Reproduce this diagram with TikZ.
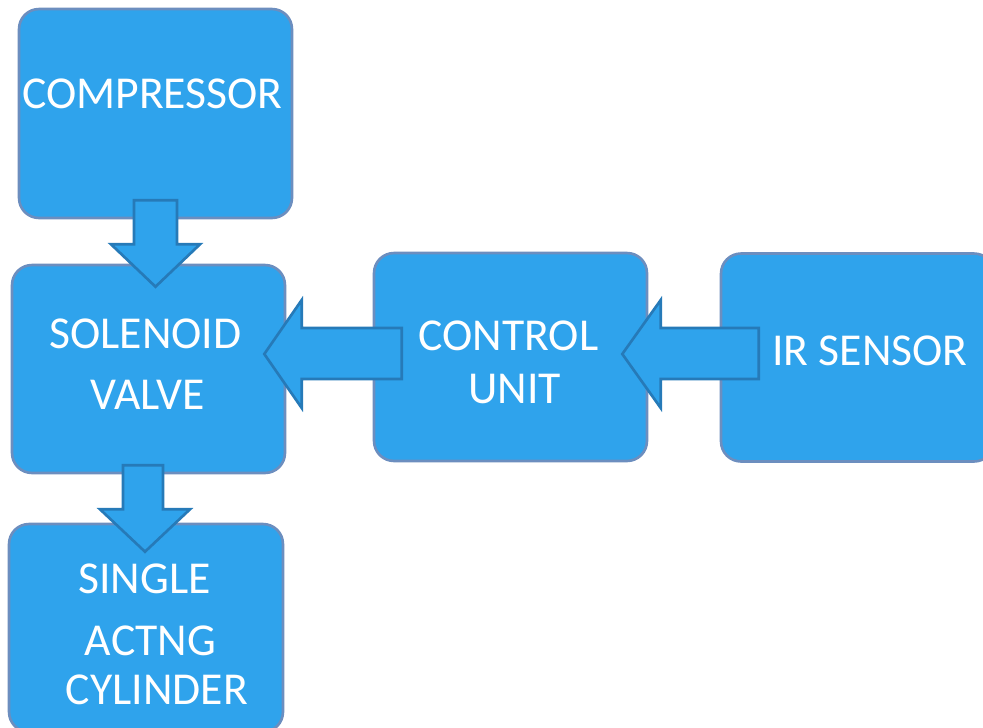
\documentclass[tikz,border=0pt]{standalone}
\usepackage{fontspec}
\setmainfont{Carlito}
\usetikzlibrary{calc}
\definecolor{boxblue}{RGB}{47,163,236}
\definecolor{boxedge}{RGB}{108,142,191}
\definecolor{arrowedge}{RGB}{38,122,184}
\tikzset{
  block/.style={draw=boxedge, fill=boxblue, line width=1.5pt, rounded corners=0.4cm, minimum width=5.46cm, minimum height=4.16cm, inner sep=0pt},
  blocktext/.style={text=white, anchor=base, font=\fontsize{26}{31}\selectfont},
  fatarrow/.style={draw=arrowedge, fill=boxblue, line width=1.5pt, line join=miter}
}

\begin{document}
\begin{tikzpicture}[x=0.02cm, y=-0.02cm]
\useasboundingbox (0,0) rectangle (983,727);
\clip (0,0) rectangle (983,727);
% boxes
\node[block, minimum height=4.18cm] (comp) at (155.5,113.5) {};
\node[block] (sol) at (148.5,369) {};
\node[block] (ctrl) at (510.5,357) {};
\node[block] (ir) at (857.5,357.5) {};
\node[block, minimum width=5.48cm] (cyl) at (146,628) {};
% block arrows
\draw[fatarrow] ($(comp.south)+(-21.5,-19)$) -- ($(comp.south)+(-21.5,25)$) -- ($(comp.south)+(-44.5,25)$) -- ($(comp.south|-sol.north)+(0,23)$) -- ($(comp.south)+(44.5,25)$) -- ($(comp.south)+(21.5,25)$) -- ($(comp.south)+(21.5,-19)$) -- cycle;
\draw[fatarrow] ($(ctrl.west)+(29,-29)$) -- ($(ctrl.west)+(-71,-29)$) -- ($(ctrl.west)+(-71,-57)$) -- ($(sol.east|-ctrl.west)+(-22,-3)$) -- ($(ctrl.west)+(-71,51)$) -- ($(ctrl.west)+(-71,22)$) -- ($(ctrl.west)+(29,22)$) -- cycle;
\draw[fatarrow] ($(ir.west)+(39,-29.5)$) -- ($(ir.west)+(-59,-29.5)$) -- ($(ir.west)+(-59,-57.5)$) -- ($(ctrl.east|-ir.west)+(-26,-3.5)$) -- ($(ir.west)+(-59,50.5)$) -- ($(ir.west)+(-59,21.5)$) -- ($(ir.west)+(39,21.5)$) -- cycle;
\draw[fatarrow] ($(sol.south)+(-25.5,-9)$) -- ($(sol.south)+(-25.5,35)$) -- ($(sol.south)+(-48.5,35)$) -- ($(sol.south|-cyl.north)+(-3.5,29)$) -- ($(sol.south)+(41.5,35)$) -- ($(sol.south)+(14.5,35)$) -- ($(sol.south)+(14.5,-9)$) -- cycle;
% labels
\node[blocktext] (comptext) at (152.5,108) {COMPRESSOR};
\node[blocktext] (soltext1) at (145.5,348) {SOLENOID};
\node[blocktext] (soltext2) at (147.5,409) {VALVE};
\node[blocktext] (ctrltext1) at (508.5,350) {CONTROL};
\node[blocktext] (ctrltext2) at (514.5,403) {UNIT};
\node[blocktext] (irtext) at (870,365) {IR SENSOR};
\node[blocktext] (cyltext1) at (144.5,593) {SINGLE};
\node[blocktext] (cyltext2) at (150.5,655) {ACTNG};
\node[blocktext] (cyltext3) at (157,704) {CYLINDER};
\end{tikzpicture}
\end{document}
